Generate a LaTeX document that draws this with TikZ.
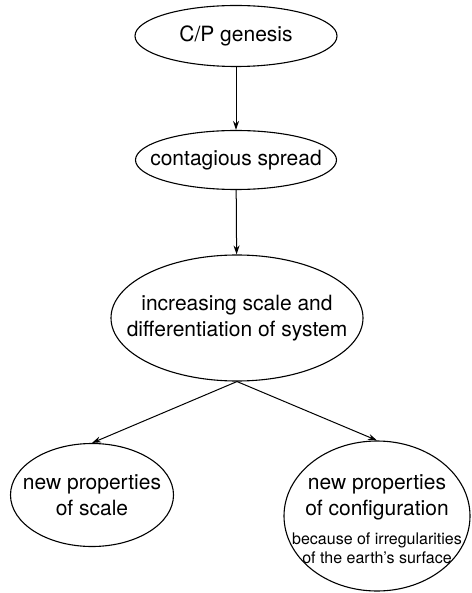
\documentclass[tikz,border=0pt]{standalone}
\usepackage{fontspec}
\setmainfont{TeX Gyre Heros}
\usetikzlibrary{shapes.geometric,arrows.meta}
\begin{document}
\begin{tikzpicture}[x=1pt,y=-1pt,
  ell/.style={draw, ellipse, inner xsep=-60pt, inner ysep=-30pt, line width=1.1pt, align=center,
    font=\fontsize{21}{26}\selectfont},
  bigtxt/.style={inner sep=0pt, align=center, font=\fontsize{21}{26}\selectfont},
  smalltxt/.style={inner sep=0pt, align=center, font=\fontsize{16}{19}\selectfont},
  conn/.style={draw, line width=1pt, -{Stealth[length=9pt,width=6pt]}}]
\useasboundingbox (0,0) rectangle (471,593);
\node[ell, minimum width=202pt, minimum height=61pt] (gen) at (236,36) {C/P genesis};
\node[ell, minimum width=201pt, minimum height=59pt] (spr) at (236,160) {contagious spread};
\node[ell, minimum width=252pt, minimum height=126pt] (inc) at (237,318) {increasing scale and\\differentiation of system};
\node[ell, minimum width=163pt, minimum height=103pt] (sca) at (92,495) {new properties\\of scale};
\node[ell, minimum width=186pt, minimum height=150pt] (con) at (377,516) {};
\node[bigtxt] (conA) at (377,497) {new properties\\of configuration};
\node[smalltxt] (conB) at (377,548) {because of irregularities\\of the earth's surface};
\draw[conn] (gen) -- (spr);
\draw[conn] (spr) -- (inc);
\draw[conn] (inc.south) -- (sca.north);
\draw[conn] (inc.south) -- (con.north);
\end{tikzpicture}
\end{document}
